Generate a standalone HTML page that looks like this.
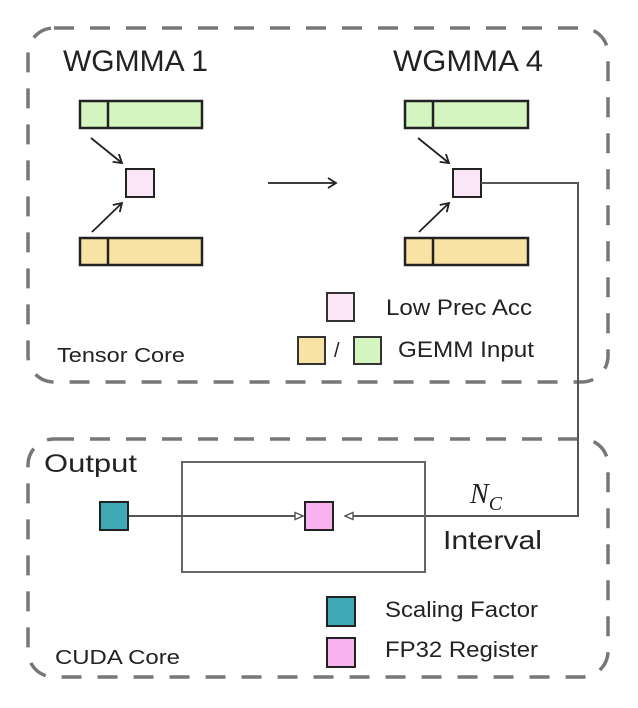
<!DOCTYPE html>
<html><head><style>
html,body{margin:0;padding:0;background:#fff;}
svg{display:block;}
text{font-family:"Liberation Sans",sans-serif;fill:#222;}
</style></head><body>
<svg width="638" height="708" viewBox="0 0 638 708">
<defs>
<marker id="ah" markerWidth="12" markerHeight="12" refX="10" refY="6" orient="auto" markerUnits="userSpaceOnUse">
<path d="M2,1 L10,6 L2,11" fill="none" stroke="#222" stroke-width="1.8"/>
</marker>
<marker id="tri" markerWidth="10" markerHeight="10" refX="9" refY="5" orient="auto" markerUnits="userSpaceOnUse">
<path d="M1,1.5 L9,5 L1,8.5 Z" fill="#fff" stroke="#555" stroke-width="1.4"/>
</marker>
</defs>
<rect x="28" y="28" width="580" height="354" rx="26" fill="none" stroke="#777" stroke-width="3.5" stroke-dasharray="20,16"/>
<rect x="28" y="439" width="580" height="238" rx="26" fill="none" stroke="#777" stroke-width="3.5" stroke-dasharray="20,16"/>

<text x="63" y="71" font-size="30" textLength="145" lengthAdjust="spacingAndGlyphs">WGMMA 1</text>
<text x="393" y="71" font-size="30" textLength="150" lengthAdjust="spacingAndGlyphs">WGMMA 4</text>

<g stroke="#222" stroke-width="2.5">
<rect x="80" y="101" width="122" height="27" fill="#d4f5c0"/>
<line x1="108" y1="101" x2="108" y2="128"/>
<rect x="80" y="238" width="122" height="27" fill="#f8e3a4"/>
<line x1="108" y1="238" x2="108" y2="265"/>
<rect x="126" y="169" width="28" height="28" fill="#fae6f7" stroke-width="2"/>
<rect x="405" y="101" width="123" height="27" fill="#d4f5c0"/>
<line x1="433" y1="101" x2="433" y2="128"/>
<rect x="405" y="238" width="123" height="27" fill="#f8e3a4"/>
<line x1="433" y1="238" x2="433" y2="265"/>
<rect x="453" y="169" width="28" height="28" fill="#fae6f7" stroke-width="2"/>
</g>
<g stroke="#222" stroke-width="1.8" fill="none">
<line x1="91" y1="138" x2="122" y2="163" marker-end="url(#ah)"/>
<line x1="92" y1="232" x2="122" y2="203" marker-end="url(#ah)"/>
<line x1="418" y1="138" x2="449" y2="163" marker-end="url(#ah)"/>
<line x1="419" y1="232" x2="449" y2="203" marker-end="url(#ah)"/>
<line x1="268" y1="183" x2="336" y2="183" marker-end="url(#ah)"/>
</g>
<polyline points="481,183 578,183 578,516 345,516" fill="none" stroke="#555" stroke-width="2" marker-end="url(#tri)"/>

<rect x="327" y="293" width="27" height="28" fill="#fae6f7" stroke="#333" stroke-width="2"/>
<text x="386" y="315" font-size="22" textLength="146" lengthAdjust="spacingAndGlyphs">Low Prec Acc</text>
<rect x="298" y="337" width="27" height="27" fill="#f8e3a4" stroke="#333" stroke-width="2"/>
<text x="334" y="357" font-size="20">/</text>
<rect x="354" y="337" width="27" height="27" fill="#d4f5c0" stroke="#333" stroke-width="2"/>
<text x="398" y="357" font-size="22" textLength="136" lengthAdjust="spacingAndGlyphs">GEMM Input</text>
<text x="57" y="362" font-size="20" textLength="128" lengthAdjust="spacingAndGlyphs">Tensor Core</text>

<text x="44" y="472" font-size="25" textLength="93" lengthAdjust="spacingAndGlyphs">Output</text>
<rect x="182" y="462" width="243" height="110" fill="none" stroke="#666" stroke-width="2"/>
<line x1="128" y1="516" x2="303" y2="516" stroke="#555" stroke-width="2" marker-end="url(#tri)"/>
<rect x="100" y="502" width="28" height="28" fill="#3fa9b5" stroke="#222" stroke-width="2"/>
<rect x="305" y="502" width="28" height="28" fill="#f7b2ef" stroke="#222" stroke-width="2"/>
<text x="470" y="503" font-size="28" font-style="italic" style="font-family:'Liberation Serif',serif">N<tspan font-size="20" dy="7">C</tspan></text>
<text x="443" y="549" font-size="26" textLength="99" lengthAdjust="spacingAndGlyphs">Interval</text>

<rect x="327" y="597" width="28" height="29" fill="#3fa9b5" stroke="#222" stroke-width="2"/>
<text x="385" y="617" font-size="22" textLength="153" lengthAdjust="spacingAndGlyphs">Scaling Factor</text>
<rect x="327" y="638" width="28" height="29" fill="#f7b2ef" stroke="#222" stroke-width="2"/>
<text x="385" y="657" font-size="22" textLength="153" lengthAdjust="spacingAndGlyphs">FP32 Register</text>
<text x="55" y="664" font-size="20" textLength="125" lengthAdjust="spacingAndGlyphs">CUDA Core</text>
</svg>
</body></html>
